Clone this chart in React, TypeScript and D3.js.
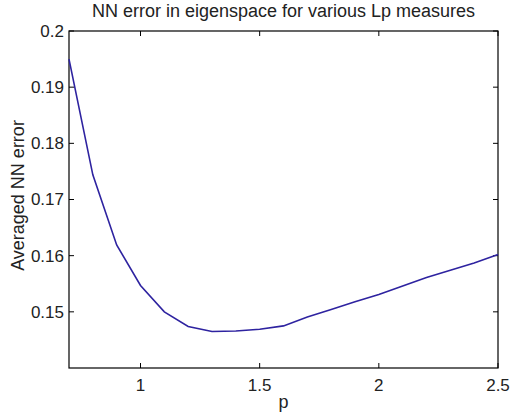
import React, { useEffect, useRef } from "react";
import * as d3 from "d3";

// p values and averaged NN error
const pValues = [0.7, 0.8, 0.9, 1.0, 1.1, 1.2, 1.3, 1.4, 1.5, 1.6, 1.7, 1.8, 1.9, 2.0, 2.1, 2.2, 2.3, 2.4, 2.5];
const nnError = [0.195, 0.1744, 0.1619, 0.1547, 0.15, 0.1474, 0.1465, 0.1466, 0.1469, 0.1475, 0.1491, 0.1504, 0.1518, 0.1531, 0.1546, 0.1561, 0.1574, 0.1587, 0.1602];
const xTicks = [1, 1.5, 2, 2.5];
const yTicks = [0.15, 0.16, 0.17, 0.18, 0.19, 0.2];

const W = 510;
const H = 415;
const margin = { left: 69, right: 12, top: 31, bottom: 47 };
const FONT = "'Liberation Sans', Arial, Helvetica, sans-serif";
const TICK_FS = "17px";

const App = () => {
  const svgRef = useRef<SVGSVGElement>(null);

  useEffect(() => {
    const svg = d3.select(svgRef.current);
    svg.selectAll("*").remove();

    const x0 = margin.left;
    const x1 = W - margin.right;
    const y0 = H - margin.bottom;
    const y1 = margin.top;

    const xScale = d3.scaleLinear().domain([0.7, 2.5]).range([x0, x1]);
    const yScale = d3.scaleLinear().domain([0.14, 0.2]).range([y0, y1]);

    const tickLen = 5;
    const g = svg.append("g");

    // ticks on all four sides, pointing inward (matlab box style)
    xTicks.forEach((t) => {
      const x = xScale(t);
      g.append("line").attr("x1", x).attr("x2", x).attr("y1", y0).attr("y2", y0 - tickLen).attr("stroke", "#000");
      g.append("line").attr("x1", x).attr("x2", x).attr("y1", y1).attr("y2", y1 + tickLen).attr("stroke", "#000");
      g.append("text")
        .attr("x", x)
        .attr("y", y0 + 23)
        .attr("text-anchor", "middle")
        .attr("font-size", TICK_FS)
        .attr("font-family", FONT)
        .attr("fill", "#222")
        .text(d3.format("")(t));
    });

    yTicks.forEach((t) => {
      const y = yScale(t);
      g.append("line").attr("x1", x0).attr("x2", x0 + tickLen).attr("y1", y).attr("y2", y).attr("stroke", "#000");
      g.append("line").attr("x1", x1).attr("x2", x1 - tickLen).attr("y1", y).attr("y2", y).attr("stroke", "#000");
      g.append("text")
        .attr("x", x0 - 5)
        .attr("y", y)
        .attr("dy", "0.35em")
        .attr("text-anchor", "end")
        .attr("font-size", TICK_FS)
        .attr("font-family", FONT)
        .attr("fill", "#222")
        .text(String(+t.toFixed(2)));
    });

    // box
    g.append("rect")
      .attr("x", x0)
      .attr("y", y1)
      .attr("width", x1 - x0)
      .attr("height", y0 - y1)
      .attr("fill", "none")
      .attr("stroke", "#000")
      .attr("stroke-width", 1.2);

    // the curve
    const line = d3
      .line<number>()
      .x((d, i) => xScale(pValues[i]))
      .y((d) => yScale(d));

    svg
      .append("path")
      .datum(nnError)
      .attr("d", line)
      .attr("fill", "none")
      .attr("stroke", "#2e23a0")
      .attr("stroke-width", 1.6);

    // labels
    svg
      .append("text")
      .attr("x", (x0 + x1) / 2)
      .attr("y", 17)
      .attr("text-anchor", "middle")
      .attr("font-size", "18px")
      .attr("font-family", FONT)
      .attr("fill", "#222")
      .text("NN error in eigenspace for various Lp measures");

    svg
      .append("text")
      .attr("x", (x0 + x1) / 2)
      .attr("y", 408)
      .attr("text-anchor", "middle")
      .attr("font-size", "18px")
      .attr("font-family", FONT)
      .attr("fill", "#222")
      .text("p");

    svg
      .append("text")
      .attr("transform", `translate(24, ${(y0 + y1) / 2 - 4}) rotate(-90)`)
      .attr("text-anchor", "middle")
      .attr("font-size", "18px")
      .attr("font-family", FONT)
      .attr("fill", "#222")
      .text("Averaged NN error");
  }, []);

  return (
    <svg
      ref={svgRef}
      width={W}
      height={H}
      style={{ position: "absolute", left: 0, top: 0, background: "#fff" }}
    />
  );
};

export default App;
